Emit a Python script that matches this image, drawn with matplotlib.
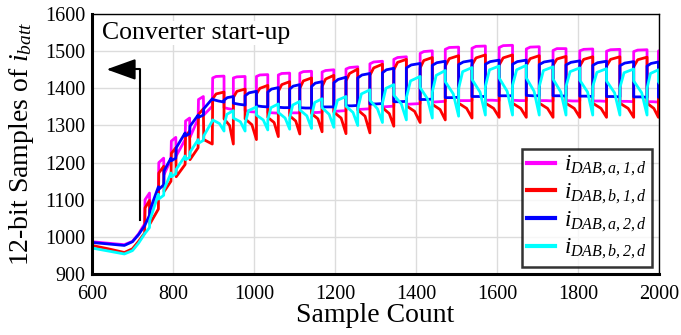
import matplotlib
matplotlib.use("Agg")
import matplotlib.pyplot as plt

plt.rcParams['font.family'] = ['Liberation Serif', 'DejaVu Serif']
plt.rcParams['mathtext.fontset'] = 'custom'
plt.rcParams['mathtext.rm'] = 'Liberation Serif:italic'
plt.rcParams['mathtext.it'] = 'Liberation Serif:italic'

# --- data ----------------------------------------------------------------
# start-up part (sample, value) for each signal
start_mag = [(600, 987), (640, 983), (680, 979), (700, 988), (715, 1008), (730, 1035),
             (731, 1100), (742, 1118), (743, 1065), (764, 1112), (765, 1200), (777, 1212),
             (778, 1168), (795, 1208), (796, 1258), (807, 1268), (808, 1218), (830, 1262),
             (831, 1312), (841, 1320), (842, 1268), (862, 1318), (863, 1370), (875, 1378),
             (876, 1328), (897, 1352)]
start_red = [(600, 977), (640, 968), (680, 958), (700, 968), (715, 988), (730, 1010),
             (731, 1078), (742, 1098), (743, 1035), (764, 1075), (765, 1172), (777, 1190),
             (778, 1122), (795, 1150), (796, 1225), (807, 1240), (808, 1162), (830, 1195),
             (831, 1270), (841, 1285), (842, 1208), (862, 1240), (863, 1330), (875, 1345),
             (876, 1262), (897, 1250)]
start_blue = [(600, 985), (640, 981), (680, 977), (700, 987), (715, 1006), (730, 1030),
              (742, 1058), (743, 1072), (764, 1135), (765, 1128), (777, 1140), (778, 1178),
              (795, 1212), (796, 1205), (807, 1212), (808, 1240), (830, 1280), (831, 1272),
              (841, 1278), (842, 1298), (862, 1328), (863, 1322), (875, 1328), (876, 1345),
              (897, 1372)]
start_cyan = [(600, 970), (640, 962), (680, 954), (700, 963), (715, 983), (730, 1008),
              (742, 1025), (743, 1045), (764, 1115), (765, 1102), (777, 1112), (778, 1128),
              (795, 1172), (796, 1162), (807, 1170), (808, 1182), (830, 1218), (831, 1208),
              (841, 1214), (842, 1228), (862, 1262), (863, 1252), (875, 1260), (876, 1272),
              (897, 1312)]

# switching instants after start-up (pair 1 high, low, high, ...)
edges = [898, 926, 949, 978, 1006, 1034, 1060, 1088, 1113, 1142, 1168, 1197, 1227, 1256,
         1286, 1317, 1345, 1376, 1410, 1440, 1472, 1505, 1538, 1571, 1605, 1638, 1672,
         1704, 1738, 1770, 1804, 1836, 1870, 1903, 1937, 1970, 1998, 2000]

# (start, middle, end) of every segment
seg_mag = [(1428, 1432, 1433), (1348, 1345, 1343), (1428, 1431, 1432), (1340, 1337, 1336),
           (1432, 1436, 1437), (1335, 1334, 1333), (1436, 1440, 1441), (1334, 1334, 1334),
           (1441, 1445, 1446), (1335, 1335, 1336), (1444, 1448, 1450), (1338, 1339, 1340),
           (1452, 1456, 1458), (1343, 1344, 1345), (1466, 1471, 1473), (1350, 1351, 1352),
           (1478, 1483, 1485), (1357, 1358, 1359), (1494, 1499, 1501), (1363, 1364, 1365),
           (1505, 1510, 1511), (1367, 1367, 1367), (1508, 1513, 1514), (1368, 1368, 1367),
           (1510, 1515, 1516), (1368, 1367, 1367), (1506, 1511, 1512), (1367, 1367, 1366),
           (1502, 1507, 1507), (1367, 1366, 1366), (1501, 1505, 1506), (1366, 1366, 1365),
           (1500, 1504, 1505), (1365, 1365, 1364), (1499, 1503, 1504), (1364, 1364, 1363),
           (1500, 1501, 1501)]
seg_red = [(1372, 1385, 1390), (1318, 1300, 1250), (1375, 1392, 1398), (1318, 1302, 1262),
           (1385, 1400, 1408), (1322, 1308, 1270), (1392, 1410, 1418), (1326, 1312, 1277),
           (1400, 1420, 1428), (1332, 1318, 1283), (1405, 1425, 1435), (1336, 1320, 1278),
           (1420, 1440, 1452), (1342, 1325, 1280), (1435, 1455, 1465), (1348, 1332, 1298),
           (1450, 1470, 1478), (1353, 1338, 1308), (1455, 1475, 1483), (1357, 1343, 1315),
           (1460, 1480, 1488), (1360, 1346, 1320), (1463, 1482, 1490), (1360, 1346, 1322),
           (1463, 1482, 1490), (1360, 1346, 1322), (1462, 1480, 1488), (1360, 1346, 1322),
           (1462, 1479, 1486), (1360, 1346, 1322), (1460, 1478, 1485), (1360, 1346, 1322),
           (1460, 1478, 1485), (1360, 1346, 1322), (1458, 1477, 1484), (1360, 1346, 1322),
           (1455, 1460, 1462)]
seg_blue = [(1370, 1366, 1363), (1368, 1375, 1378), (1360, 1357, 1355), (1380, 1388, 1392),
            (1353, 1351, 1350), (1390, 1398, 1402), (1349, 1348, 1348), (1398, 1406, 1410),
            (1348, 1347, 1347), (1405, 1414, 1418), (1350, 1350, 1350), (1415, 1424, 1430),
            (1353, 1353, 1354), (1428, 1436, 1440), (1358, 1358, 1359), (1442, 1450, 1454),
            (1364, 1364, 1365), (1455, 1463, 1467), (1370, 1370, 1371), (1462, 1469, 1473),
            (1375, 1375, 1376), (1464, 1471, 1475), (1378, 1378, 1378), (1465, 1472, 1476),
            (1380, 1380, 1380), (1465, 1472, 1476), (1381, 1380, 1380), (1464, 1471, 1475),
            (1380, 1380, 1379), (1463, 1470, 1474), (1379, 1379, 1378), (1462, 1469, 1473),
            (1378, 1378, 1377), (1461, 1468, 1472), (1377, 1377, 1376), (1460, 1467, 1471),
            (1376, 1376, 1376)]
seg_cyan = [(1315, 1305, 1285), (1300, 1330, 1340), (1320, 1310, 1285), (1305, 1340, 1350),
            (1328, 1315, 1288), (1315, 1348, 1358), (1335, 1320, 1290), (1320, 1355, 1365),
            (1342, 1326, 1292), (1325, 1362, 1372), (1348, 1330, 1295), (1332, 1368, 1378),
            (1352, 1335, 1300), (1345, 1385, 1396), (1368, 1345, 1308), (1360, 1400, 1410),
            (1382, 1358, 1315), (1375, 1420, 1432), (1402, 1372, 1320), (1390, 1435, 1448),
            (1418, 1385, 1325), (1400, 1445, 1456), (1424, 1390, 1328), (1405, 1450, 1460),
            (1428, 1392, 1328), (1408, 1450, 1462), (1428, 1392, 1328), (1405, 1448, 1458),
            (1425, 1390, 1328), (1405, 1445, 1455), (1422, 1390, 1328), (1405, 1443, 1453),
            (1420, 1388, 1328), (1402, 1442, 1452), (1420, 1388, 1328), (1400, 1440, 1450),
            (1418, 1416, 1415)]

labels = [r'$i_{DAB,a,1,d}$', r'$i_{DAB,b,1,d}$', r'$i_{DAB,a,2,d}$', r'$i_{DAB,b,2,d}$']
colors = ['#ff00ff', '#ff0000', '#0000ff', '#00ffff']


def build(start, segs, knee):
    # knee = where the middle point sits inside a (high, low) segment
    xs = [p[0] for p in start]
    ys = [p[1] for p in start]
    for i, (a, m, b) in enumerate(segs):
        t0, t1 = edges[i], edges[i + 1]
        k = knee[i % 2]
        xs += [t0, t0 + k * (t1 - t0), t1]
        ys += [a, m, b]
    return xs, ys


series = [(start_mag, seg_mag, (0.3, 0.5)),
          (start_red, seg_red, (0.3, 0.6)),
          (start_blue, seg_blue, (0.5, 0.35)),
          (start_cyan, seg_cyan, (0.6, 0.3))]

fig = plt.figure(figsize=(6.81, 3.35), dpi=100)
ax = fig.add_axes([0.135, 0.182, 0.833, 0.776])

for (st, sg, kn), c, lab in zip(series, colors, labels):
    x, y = build(st, sg, kn)
    ax.plot(x, y, color=c, lw=2, label=lab)

ax.set_xlim(600, 2000)
ax.set_ylim(900, 1600)
ax.set_xticks(range(600, 2001, 200))
ax.set_yticks(range(900, 1601, 100))
ax.grid(True, color='#dcdcdc', lw=1)
ax.set_axisbelow(True)
ax.tick_params(axis='y', length=0, labelsize=14.5, pad=5)
ax.tick_params(axis='x', length=0, labelsize=14.5, pad=8)
for s in ['left', 'bottom']:
    ax.spines[s].set_linewidth(2.2)
for s in ['top', 'right']:
    ax.spines[s].set_linewidth(1.0)

ax.set_xlabel('Sample Count', fontsize=20, labelpad=-1)
ax.set_ylabel(r'12-bit Samples of $i_{batt}$', fontsize=20, labelpad=6)

ax.text(626, 1549, 'Converter start-up', fontsize=18.5, va='center', ha='left',
        bbox=dict(facecolor='white', edgecolor='none', pad=1))
ax.plot([718, 718, 700], [1045, 1451, 1451], color='k', lw=1.5)
ax.annotate('', xy=(636, 1451), xytext=(702, 1451),
            arrowprops=dict(arrowstyle='-|>,head_length=1.0,head_width=0.36',
                            mutation_scale=18, color='k', lw=1.5, shrinkA=0, shrinkB=0))

leg = ax.legend(loc='lower right', fontsize=16.5, frameon=True, fancybox=False,
                borderpad=0.25, labelspacing=0.15, handlelength=1.2, handletextpad=0.4,
                borderaxespad=0.3)
leg.get_frame().set_edgecolor('black')
leg.get_frame().set_linewidth(1.8)
for h in leg.get_lines():
    h.set_linewidth(3)

fig.savefig('out.png', dpi=100)
